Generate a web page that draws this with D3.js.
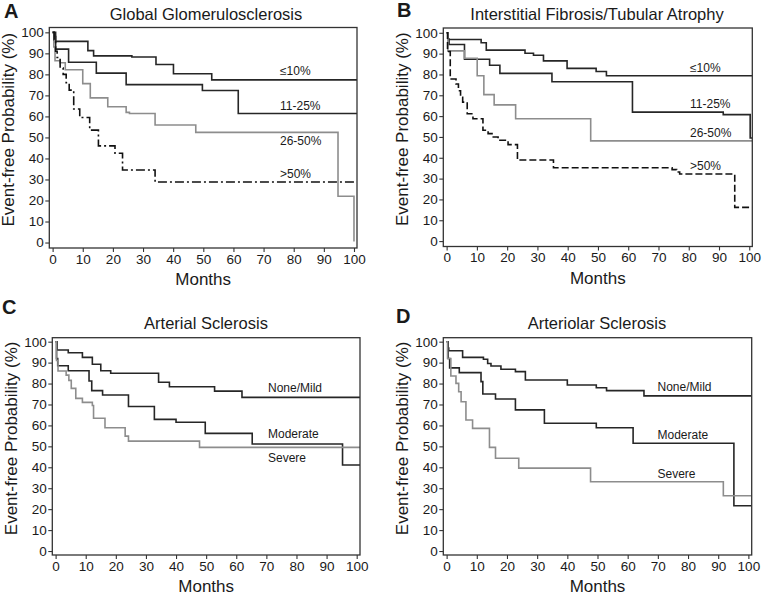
<!DOCTYPE html>
<html><head><meta charset="utf-8">
<script src="https://cdn.jsdelivr.net/npm/d3@7"></script>
<style>
body{margin:0;background:#fff;}
text{font-family:"Liberation Sans",Arial,Helvetica,sans-serif;fill:#1a1a1a;}
</style></head><body>
<svg id="chart" width="764" height="599"></svg>
<script>
// ---------- data (month, event-free %) ----------
const xTicks = [0,10,20,30,40,50,60,70,80,90,100];
const yTicks = [0,10,20,30,40,50,60,70,80,90,100];
const panelLetters = ["A","B","C","D"];
const panelTitles = ["Global Glomerulosclerosis","Interstitial Fibrosis/Tubular Atrophy","Arterial Sclerosis","Arteriolar Sclerosis"];
const gsLabels = ["\u226410%","11-25%","26-50%",">50%"];
const sevLabels = ["None/Mild","Moderate","Severe"];

const ggLe10 = [[0,100],[1,95.7],[11.7,91.3],[13.6,88.8],[26.3,88.3],[34.3,84.7],[40.1,80.3],[52.8,77.4]];
const gg11to25 = [[0,100],[0.5,98],[1,92],[5.3,85.8],[14.5,80.6],[24.4,75.1],[49.7,72.3],[61.6,61.4]];
const gg26to50 = [[0,100],[0.4,93],[0.8,86.5],[2.5,85.5],[4.2,82.2],[10,75.6],[12.5,68.8],[18.3,64.6],[24.4,61.9],[25.5,61.4],[34,55.9],[47.5,52.4],[94.7,22],[100,0.5]];
const ggGt50 = [[0,100],[0.5,96.5],[1,91],[1.5,88],[2.5,83],[3.5,80],[4.5,76],[5.5,72.5],[7,63.5],[9,59.5],[12.3,53.5],[15.2,46],[20.7,42.5],[23.2,34.5],[34,28.8]];

const ifLe10 = [[0,100],[0.5,96.8],[11.4,95.2],[13.1,91.7],[25.9,90.2],[28.7,89.2],[32,86.5],[39.8,82.9],[49.4,81.4],[52.8,79.4]];
const if11to25 = [[0,100],[0.4,97],[0.8,94.4],[5.9,87.3],[14.2,84.4],[17.6,80.5],[34.8,76.5],[61.4,61.9],[91.4,60.7],[100.3,49.5]];
const if26to50 = [[0,100],[0.4,91.3],[5.9,87.8],[10.1,79.4],[12.3,70.3],[15.7,65.4],[22.8,58.7],[47.6,48.1]];
const ifGt50 = [[0,100],[0.3,91],[1.2,77.8],[3.1,75.4],[3.9,72.2],[4.6,69],[5.3,66.7],[6.8,61.1],[8.7,58.7],[12,53.2],[13.7,51.6],[15,50],[17,48.4],[20.3,46.3],[23.4,38.9],[35.3,35.2],[74.5,34.3],[76,33.2],[77,32.2],[95.2,16.2]];

const arNone = [[0,100],[0.5,96],[4.2,94.7],[8.9,92.5],[12.2,89.2],[15,86.1],[18.3,84.9],[34.2,80.6],[37.8,78.5],[52.8,76.4],[61.9,73.4]];
const arModerate = [[0,100],[0.3,92],[0.7,88.5],[4.2,86.1],[11.1,81.2],[12,76.6],[15.6,74.5],[24.2,69],[32.8,62.9],[40,61.5],[49.7,56.2],[65.3,51.1],[95.3,41.1]];
const arSevere = [[0,100],[0.3,91],[0.8,86],[3.5,84],[4.4,81.5],[5.2,77.7],[6.7,72.9],[8.9,71],[12.2,69.5],[12.6,63.4],[16.4,58.9],[23.1,54.9],[24.2,52.5],[47.8,49.5]];

const aoNone = [[0,100],[0.4,97],[0.7,95.7],[5.3,92.5],[12.2,91.6],[13.6,89.6],[14.7,88.4],[18,86.8],[22.8,85.7],[26.1,81.7],[40,79.3],[49.6,78],[53,76.6],[65.4,74.1]];
const aoModerate = [[0,100],[0.5,92],[1,87.5],[4.2,85.2],[11.4,80.9],[12,75],[16.2,72.6],[22.8,67.4],[32.4,61],[49.6,58.9],[61.8,51.5],[95.2,21.6]];
const aoSevere = [[0,100],[0.3,92],[1.4,83.6],[3.1,80.1],[4,76.1],[4.8,71.3],[6.4,62.6],[8.6,58.6],[14.2,49.5],[16.2,44.3],[23.9,39.6],[47.7,33.1],[91.7,26.4]];

// ---------- layout ----------
const DARK = "#262626", GRAY = "#8d8d8d";
const panels = [
  {box:[49.3,357,27.5,248], xd:[-1.1,101], yd:[-2.6,102.3],
   series:[{d:ggLe10,c:DARK},{d:gg11to25,c:DARK},{d:gg26to50,c:GRAY,end:100},{d:ggGt50,c:"#111",dash:"9,3,2,3"}],
   labels:[[280,75],[280,110],[280,145],[280,178]], labTexts:gsLabels,
   letter:[4,17.5], title:[206,20]},
  {box:[443.3,752.3,28,246.5], xd:[-1.1,101], yd:[-2.6,102.3],
   series:[{d:ifLe10,c:DARK},{d:if11to25,c:DARK},{d:if26to50,c:GRAY},{d:ifGt50,c:"#111",dash:"7,3"}],
   labels:[[690,72],[690,108],[690,137],[690,170]], labTexts:gsLabels,
   letter:[397,17], title:[597,19.5]},
  {box:[52.3,360,337.7,555], xd:[-1.1,101.1], yd:[-1.9,101.9],
   series:[{d:arNone,c:DARK},{d:arModerate,c:DARK},{d:arSevere,c:GRAY}],
   labels:[[268,391.5],[268,437.5],[268,462]], labTexts:sevLabels,
   letter:[2,313.5], title:[206,328.5]},
  {box:[443.3,751.7,337.7,555], xd:[-1.1,101.1], yd:[-1.9,101.9],
   series:[{d:aoNone,c:DARK},{d:aoModerate,c:DARK},{d:aoSevere,c:GRAY}],
   labels:[[657.5,391],[657.5,439],[657.5,478]], labTexts:sevLabels,
   letter:[396,322.5], title:[597,329]}
];

const svg = d3.select("#chart");

panels.forEach((p,i)=>{
  const [L,R,T,B] = p.box;
  const x = d3.scaleLinear().domain(p.xd).range([L,R]);
  const y = d3.scaleLinear().domain(p.yd).range([B,T]);
  const g = svg.append("g");

  // axes
  const ya = g.append("g").attr("transform",`translate(${L},0)`)
    .call(d3.axisLeft(y).tickValues(yTicks).tickSize(4).tickPadding(1.5));
  const xa = g.append("g").attr("transform",`translate(0,${B})`)
    .call(d3.axisBottom(x).tickValues(xTicks).tickSize(4).tickPadding(2));
  [ya,xa].forEach(a=>{
    a.select(".domain").remove();
    a.selectAll("line").attr("stroke","#333").attr("stroke-width",1.1);
    a.selectAll("text").style("font-size","13.5px").attr("fill","#1a1a1a")
      .style("font-family",'"Liberation Sans",Arial,sans-serif');
  });

  // curves
  const line = d3.line().x(d=>x(d[0])).y(d=>y(d[1])).curve(d3.curveStepAfter);
  p.series.forEach(s=>{
    const end = s.end!==undefined ? s.end : p.xd[1];
    const pts = s.d.concat([[end, s.d[s.d.length-1][1]]]);
    g.append("path").attr("d",line(pts)).attr("fill","none")
      .attr("stroke",s.c).attr("stroke-width",1.6)
      .attr("stroke-dasharray",s.dash||null);
  });

  // frame
  g.append("rect").attr("x",L).attr("y",T).attr("width",R-L).attr("height",B-T)
    .attr("fill","none").attr("stroke","#333").attr("stroke-width",1.3);

  // series labels
  p.labTexts.forEach((t,k)=>{
    g.append("text").attr("x",p.labels[k][0]).attr("y",p.labels[k][1])
      .style("font-size","12px").text(t);
  });

  // titles
  g.append("text").attr("x",p.title[0]).attr("y",p.title[1]).attr("text-anchor","middle")
    .style("font-size","16.5px").text(panelTitles[i]);
  g.append("text").attr("x",p.letter[0]).attr("y",p.letter[1])
    .style("font-size","20px").style("font-weight","bold").attr("fill","#000").text(panelLetters[i]);
  g.append("text").attr("x",(L+R)/2).attr("y",B+37).attr("text-anchor","middle")
    .style("font-size","17px").text("Months");
  const yc = (T+B)/2 - 8;
  g.append("text").attr("transform",`translate(${L-35},${yc}) rotate(-90)`)
    .attr("text-anchor","middle").style("font-size","17px").text("Event-free Probability (%)");
});
</script>
</body></html>
